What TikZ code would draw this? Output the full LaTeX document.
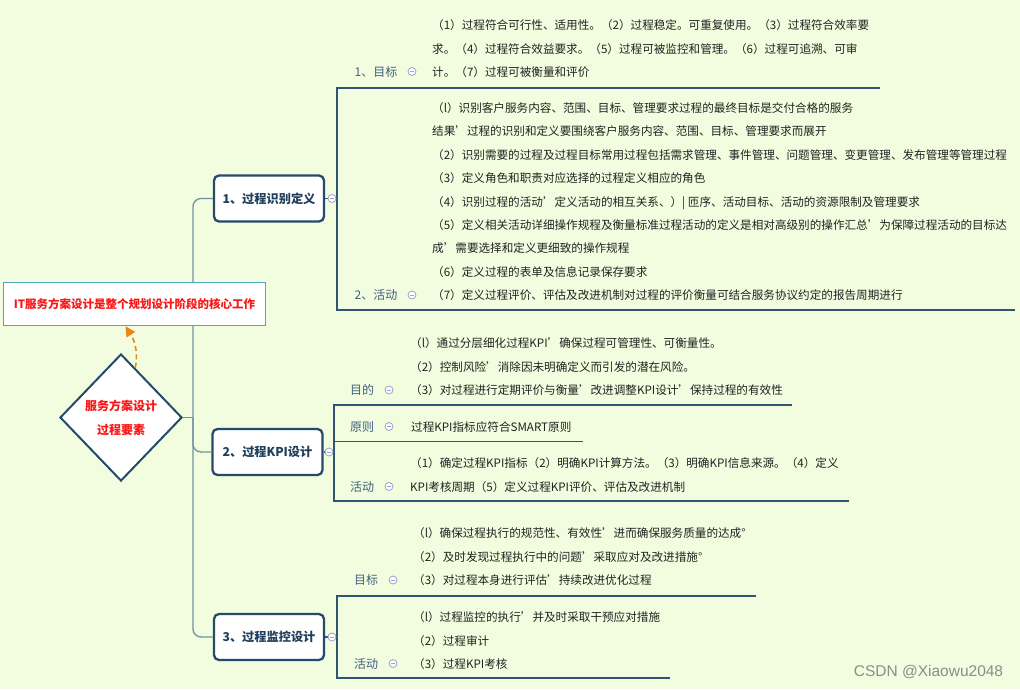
\documentclass[tikz,border=0pt]{standalone}
\usepackage{fontspec}
\setmainfont{Noto Sans CJK SC}
\newfontfamily\wmfont{Liberation Sans}
\usepackage{tikz}
\usetikzlibrary{shapes.geometric,arrows.meta,calc}
\definecolor{bgc}{RGB}{241,253,222}
\definecolor{trunkc}{RGB}{112,146,160}
\definecolor{linec}{RGB}{50,84,114}
\definecolor{boxc}{RGB}{38,74,108}
\definecolor{labc}{RGB}{66,96,128}
\definecolor{txtc}{RGB}{34,34,34}
\definecolor{foldc}{RGB}{150,165,205}
\definecolor{notec}{RGB}{78,168,184}
\definecolor{redc}{RGB}{250,22,22}
\definecolor{arrc}{RGB}{236,132,22}
\tikzset{
  branch/.style={
    draw = boxc,
    line width = 2.3pt,
    fill = white,
    rounded corners = 5pt,
    minimum width = 110pt,
    minimum height = 46pt,
    font = \fontsize{12.2}{12.2}\selectfont\bfseries,
    text = boxc!85!black
  },
  root/.style={
    diamond,
    draw = boxc,
    line width = 2pt,
    fill = white,
    inner sep = 0pt,
    minimum width = 122pt,
    minimum height = 127pt,
    align = center,
    font = \fontsize{12}{24}\selectfont\bfseries,
    text = redc
  },
  note/.style={
    draw = notec,
    line width = 1.5pt,
    fill = white,
    minimum width = 262pt,
    minimum height = 43pt,
    font = \fontsize{11.5}{11.5}\selectfont\bfseries,
    text = redc
  },
  trunk/.style={
    draw = trunkc,
    line width = 1.3pt
  },
  bracket/.style={
    draw = linec,
    line width = 1.2pt
  },
  txt/.style={
    anchor = base west,
    inner sep = 0pt,
    font = \fontsize{11.6}{11.6}\selectfont,
    text = txtc
  },
  lab/.style={
    anchor = base,
    inner sep = 0pt,
    font = \fontsize{12}{12}\selectfont,
    text = labc
  },
  fold/.style={
    circle,
    draw = foldc,
    fill = white,
    line width = 0.8pt,
    minimum size = 8pt,
    inner sep = 0pt,
    path picture={\draw[foldc, line width=0.8pt]
      ([xshift=-2pt]path picture bounding box.center) --
      ([xshift=2pt]path picture bounding box.center);}
  }
}

\begin{document}
\begin{tikzpicture}[x=1pt,y=-1pt]
  \fill[bgc] (0,0) rectangle (1020,689);
  \useasboundingbox (0,0) rectangle (1020,689);

  % main nodes
  \node[root] (root) at (121,417.5) {服务方案设计\\过程要素};
  \node[branch] (b1) at (269,198.5) {1、过程识别定义};
  \node[branch] (b2) at (267.5,452) {2、过程KPI设计};
  \node[branch] (b3) at (269,637) {3、过程监控设计};

  \coordinate (tr) at (193,417.5);
  \draw[trunk] (root.east) -- (tr);
  \draw[trunk, rounded corners=8pt] (b1.west) -| (tr) |- (b3.west);
  \draw[trunk, rounded corners=8pt] (tr) |- (b2.west);

  \node[note] (note) at (134.5,304) {IT服务方案设计是整个规划设计阶段的核心工作};
  \draw[arrc, line width=1.6pt, dash pattern=on 5pt off 3.5pt, -{Triangle[length=10pt,width=10pt]}]
    ($(root.north)!0.23!(root.east)$) .. controls (139,350) and (133,338) .. ([xshift=-9pt]note.south);

  % 1 process definition
  \coordinate (t1a) at (337,88);
  \coordinate (t1ae) at (880,88);
  \coordinate (t1b) at (337,310);
  \coordinate (t1be) at (1015,310);
  \draw[bracket] (t1ae) -- (t1a) -- (t1b) -- (t1be);
  \draw[bracket] (b1.east) -- (b1.east -| t1a);
  \node[fold] (f1) at (332,198.5) {};

  \node[lab] (l11) at (376,76.5) {1、目标};
  \node[fold] (f11) at (412,71.5) {};
  \foreach \t [count=\i] in {
    （1）过程符合可行性、适用性。（2）过程稳定。可重复使用。（3）过程符合效率要,
    求。（4）过程符合效益要求。（5）过程可被监控和管理。（6）过程可追溯、可审,
    计。（7）过程可被衡量和评价}
    \node[txt] (g1-\i) at (432,6+23.5*\i) {\t};

  \node[lab] (l12) at (376,299.5) {2、活动};
  \node[fold] (f12) at (412,295) {};
  \foreach \t [count=\i] in {
    （l）识别客户服务内容、范围、目标、管理要求过程的最终目标是交付合格的服务,
    结果’过程的识别和定义要围绕客户服务内容、范围、目标、管理要求而展开,
    （2）识别需要的过程及过程目标常用过程包括需求管理、事件管理、问题管理、变更管理、发布管理等管理过程,
    （3）定义角色和职责对应选择的过程定义相应的角色,
    （4）识别过程的活动’定义活动的相互关系、）| 匝序、活动目标、活动的资源限制及管理要求,
    （5）定义相关活动详细操作规程及衡量标准过程活动的定义是相对高级别的操作汇总’为保障过程活动的目标达,
    成’需要选择和定义更细致的操作规程,
    （6）定义过程的表单及信息记录保存要求,
    （7）定义过程评价、评估及改进机制对过程的评价衡量可结合服务协议约定的报告周期进行}
    \node[txt] (a1-\i) at (432,89.1+23.4*\i) {\t};

  % 2 KPI design
  \coordinate (t2a) at (334,405);
  \coordinate (t2ae) at (792,405);
  \coordinate (t2b) at (334,441.5);
  \coordinate (t2be) at (583,441.5);
  \coordinate (t2c) at (334,501);
  \coordinate (t2ce) at (849,501);
  \draw[bracket] (t2ae) -- (t2a) -- (t2c) -- (t2ce);
  \draw[bracket] (t2b) -- (t2be);
  \draw[bracket] (b2.east) -- (b2.east -| t2a);
  \node[fold] (f2) at (329,452) {};

  \node[lab] (l21) at (362,394.5) {目的};
  \node[fold] (f21) at (389,390) {};
  \foreach \t [count=\i] in {
    （l）通过分层细化过程KPI’确保过程可管理性、可衡量性。,
    （2）控制风险’消除因未明确定义而引发的潜在风险。,
    （3）对过程进行定期评价与衡量’改进调整KPI设计’保持过程的有效性}
    \node[txt] (g2-\i) at (410,324+23.5*\i) {\t};

  \node[lab] (l22) at (362,431) {原则};
  \node[fold] (f22) at (389,426.5) {};
  \node[txt] (p2-1) at (411,431) {过程KPI指标应符合SMART原则};

  \node[lab] (l23) at (362,491) {活动};
  \node[fold] (f23) at (389,486.5) {};
  \foreach \t [count=\i] in {
    （1）确定过程KPI指标（2）明确KPI计算方法。（3）明确KPI信息来源。（4）定义,
    KPI考核周期（5）定义过程KPI评价、评估及改进机制}
    \node[txt] (a2-\i) at (410,444+23.5*\i) {\t};

  % 3 monitoring design
  \coordinate (t3a) at (337,596);
  \coordinate (t3ae) at (756,596);
  \coordinate (t3b) at (337,678);
  \coordinate (t3be) at (670,678);
  \draw[bracket] (t3ae) -- (t3a) -- (t3b) -- (t3be);
  \draw[bracket] (b3.east) -- (b3.east -| t3a);
  \node[fold] (f3) at (332,637) {};

  \node[lab] (l31) at (366,584.5) {目标};
  \node[fold] (f31) at (393,580) {};
  \foreach \t [count=\i] in {
    （l）确保过程执行的规范性、有效性’进而确保服务质量的达成°,
    （2）及时发现过程执行中的问题’采取应对及改进措施°,
    （3）对过程本身进行评估’持续改进优化过程}
    \node[txt] (g3-\i) at (413,514+23.5*\i) {\t};

  \node[lab] (l32) at (366,668) {活动};
  \node[fold] (f32) at (393,663.5) {};
  \foreach \t [count=\i] in {
    （l）过程监控的执行’并及时采取干预应对措施,
    （2）过程审计,
    （3）过程KPI考核}
    \node[txt] (a3-\i) at (413,598+23.5*\i) {\t};

  \node[font=\wmfont\fontsize{15.5}{15.5}\selectfont, text=black!45, inner sep=0pt] (wm) at (928.5,672) {CSDN @Xiaowu2048};
\end{tikzpicture}
\end{document}
